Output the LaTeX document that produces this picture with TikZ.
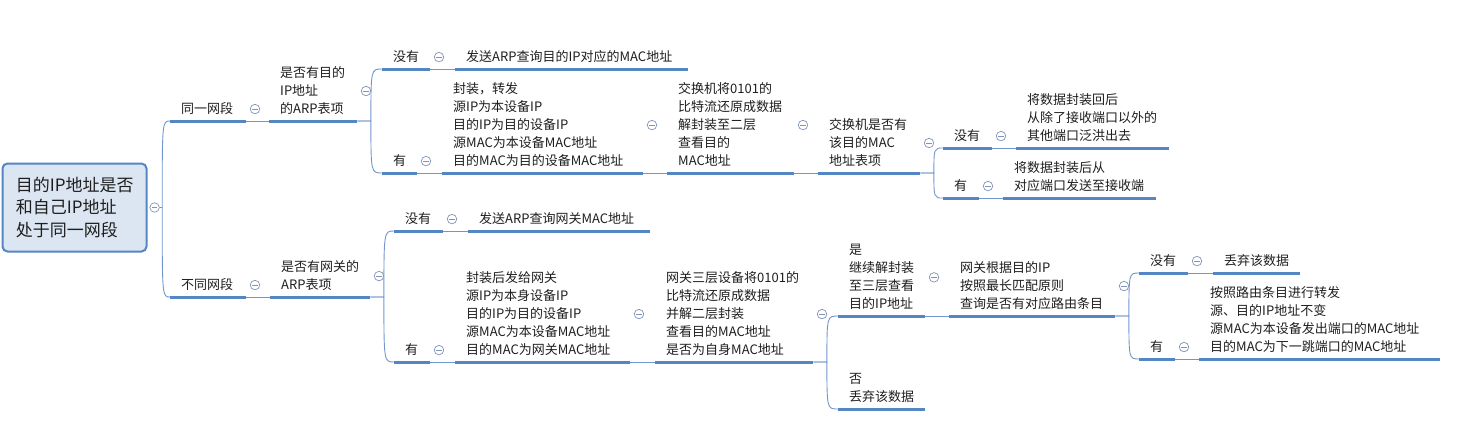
\documentclass[tikz,border=0pt]{standalone}
\usepackage{fontspec}
\setmainfont{Noto Sans CJK SC}
\usepackage{tikz}
\usetikzlibrary{positioning}

\definecolor{lineblue}{RGB}{84,134,196}
\definecolor{linkblue}{RGB}{112,150,204}
\definecolor{foldgray}{RGB}{128,148,184}
\definecolor{rootfill}{RGB}{220,230,242}
\definecolor{txt}{RGB}{30,30,30}

\tikzset{
  topic/.style={anchor=south west, align=left, inner xsep=11pt, inner ysep=5pt,
    font=\fontsize{13}{18}\selectfont, text=txt,
    execute at end node={\rule[-2.5pt]{0pt}{2.5pt}}},
  uline/.style={lineblue, line width=3pt},
  link/.style={linkblue, line width=0.9pt},
  fold/.style={circle, draw=foldgray, fill=white, line width=0.7pt,
    minimum size=9.5pt, inner sep=0pt,
    path picture={\draw[foldgray, line width=0.7pt]
      ([xshift=-2.6pt]path picture bounding box.center) --
      ([xshift=2.6pt]path picture bounding box.center);}},
}

\begin{document}
\begin{tikzpicture}[x=1pt, y=-1pt]
    \useasboundingbox (0,0) rectangle (1457,445);
    % root
    \node[draw=lineblue, line width=2pt, fill=rootfill, rounded corners=5pt,
      minimum width=144pt, minimum height=88pt, text width=117pt, align=left,
      font=\fontsize{17}{22.5}\selectfont, text=txt] (root) at (74.5,207.5)
      {目的IP地址是否\\和自己IP地址\\处于同一网段};
    % same segment
    \node[topic, text width=54pt] (a1) at (170,121) {同一网段};
    \node[topic, text width=66pt] (b1) at (269,121) {是否有目的\\IP地址\\的ARP表项};
    \node[topic, text width=26pt] (c1) at (382,69) {没有};
    \node[topic, text width=211pt] (d1) at (455,69) {发送ARP查询目的IP对应的MAC地址};
    \node[topic, text width=13pt] (c2) at (382,173) {有};
    \node[topic, text width=179pt] (d2) at (442,173) {封装，转发\\源IP为本设备IP\\目的IP为目的设备IP\\源MAC为本设备MAC地址\\目的MAC为目的设备MAC地址};
    \node[topic, text width=105pt] (e2) at (667,173) {交换机将0101的\\比特流还原成数据\\解封装至二层\\查看目的\\MAC地址};
    \node[topic, text width=80pt] (f2) at (818,173) {交换机是否有\\该目的MAC\\地址表项};
    \node[topic, text width=27pt] (g1) at (943,148) {没有};
    \node[topic, text width=131pt] (h1) at (1016,148) {将数据封装回后\\从除了接收端口以外的\\其他端口泛洪出去};
    \node[topic, text width=14pt] (g2) at (943,198) {有};
    \node[topic, text width=131pt] (h2) at (1003,198) {将数据封装后从\\对应端口发送至接收端};
    % other segment
    \node[topic, text width=54pt] (a2) at (170,297) {不同网段};
    \node[topic, text width=78pt] (b2) at (270,297) {是否有网关的\\ARP表项};
    \node[topic, text width=27pt] (c3) at (394,231) {没有};
    \node[topic, text width=160pt] (d3) at (468,231) {发送ARP查询网关MAC地址};
    \node[topic, text width=14pt] (c4) at (394,362) {有};
    \node[topic, text width=153pt] (d4) at (455,362) {封装后发给网关\\源IP为本身设备IP\\目的IP为目的设备IP\\源MAC为本设备MAC地址\\目的MAC为网关MAC地址};
    \node[topic, text width=136pt] (e4) at (655,362) {网关三层设备将0101的\\比特流还原成数据\\并解二层封装\\查看目的MAC地址\\是否为自身MAC地址};
    \node[topic, text width=65pt] (f3) at (838,316) {是\\继续解封装\\至三层查看\\目的IP地址};
    \node[topic, text width=65pt] (f4) at (838,409) {否\\丢弃该数据};
    \node[topic, text width=144pt] (g3) at (949,316) {网关根据目的IP\\按照最长匹配原则\\查询是否有对应路由条目};
    \node[topic, text width=27pt] (h3) at (1139,273) {没有};
    \node[topic, text width=65pt] (i3) at (1213,273) {丢弃该数据};
    \node[topic, text width=14pt] (h4) at (1139,359) {有};
    \node[topic, text width=219pt] (i4) at (1199,359) {按照路由条目进行转发\\源、目的IP地址不变\\源MAC为本设备发出端口的MAC地址\\目的MAC为下一跳端口的MAC地址};

    % underlines
    \foreach \n in {a1,b1,c1,d1,c2,d2,e2,f2,g1,h1,g2,h2,a2,b2,c3,d3,c4,d4,e4,f3,f4,g3,h3,i3,h4,i4}
      \draw[uline] (\n.south west) -- (\n.south east);

    % straight links
    \foreach \p/\c in {a1/b1,c1/d1,c2/d2,d2/e2,e2/f2,g1/h1,g2/h2,a2/b2,c3/d3,c4/d4,d4/e4,f3/g3,h3/i3,h4/i4}
      \draw[link] (\p.south east) -- (\c.south west);

    % branching links
    \foreach \p/\c in {b1/c1,b1/c2,f2/g1,f2/g2,b2/c3,b2/c4,e4/f3,e4/f4,g3/h3,g3/h4} {
      \path (\p.south east) ++(13.5,0) coordinate (j);
      \draw[link] (\p.south east) -- (j) .. controls (j |- \c.south west) .. (\c.south west);
    }
    \node[fold, right=2pt of root] (froot) {};
    \path (froot.east) ++(2.5,0) coordinate (jr);
    \draw[link] (froot.east) -- (jr) .. controls (jr |- a1.south west) .. (a1.south west);
    \draw[link] (jr) .. controls (jr |- a2.south west) .. (a2.south west);

    % collapse markers
    \foreach \n in {a1,b1,c1,c2,d2,e2,f2,g1,g2,a2,b2,c3,c4,d4,e4,f3,g3,h3,h4}
      \node[fold, right=3.5pt of \n] (f\n) {};
\end{tikzpicture}
\end{document}
